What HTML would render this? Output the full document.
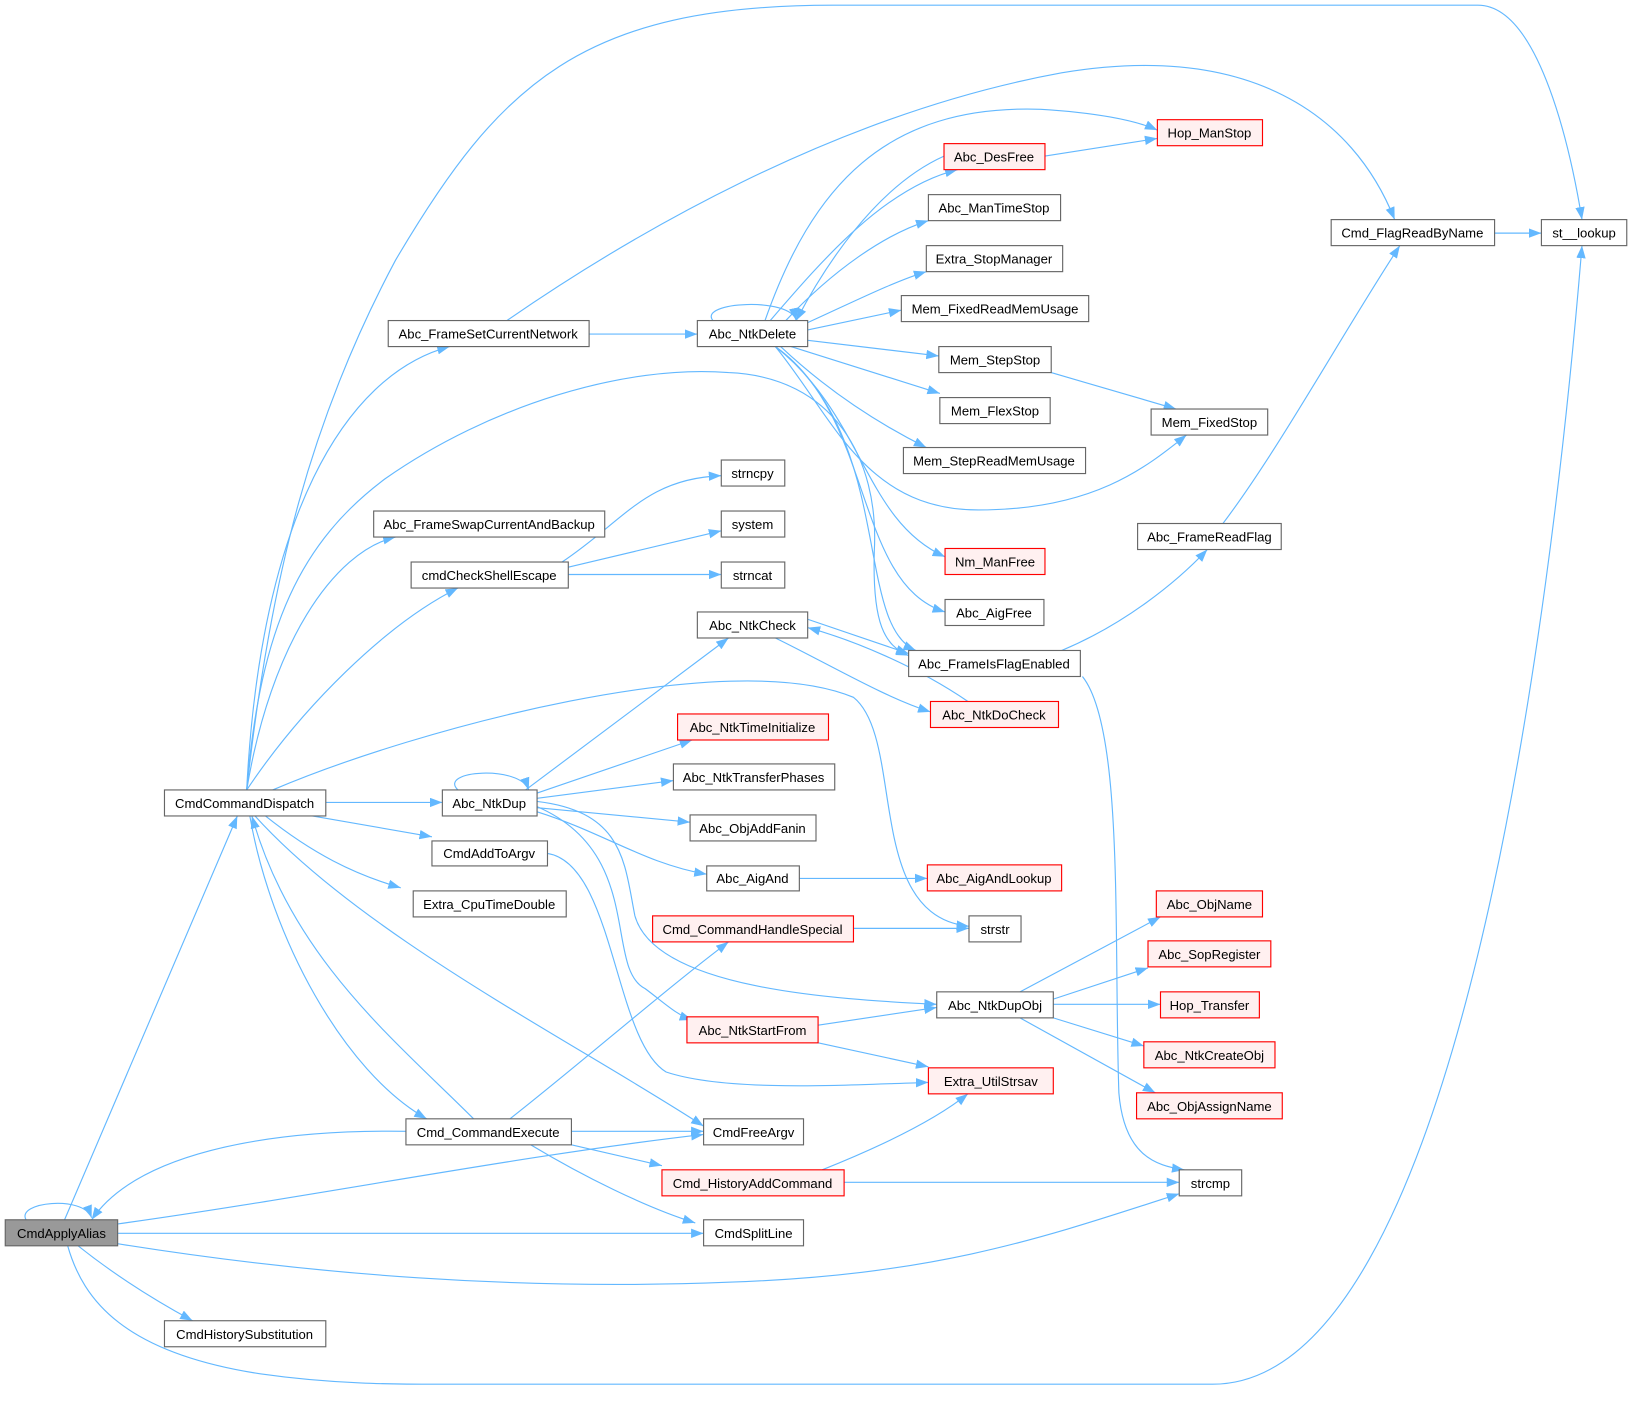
<!DOCTYPE html>
<html><head><meta charset="utf-8"><style>
html,body{margin:0;padding:0;background:#fff;}
svg{display:block;}
text{font-family:"Liberation Sans",Arial,sans-serif;font-size:12.6px;fill:#000;text-anchor:middle;dominant-baseline:central;}
.e{fill:none;stroke:#63b8ff;stroke-width:1.1;marker-end:url(#a);}
.n{fill:#fff;stroke:#666;stroke-width:1.1;}
.r{fill:#fff0f0;stroke:#ff0000;stroke-width:1.1;}
.g{fill:#999;stroke:#666;stroke-width:1.1;}
</style></head><body>
<svg width="1632" height="1404" viewBox="0 0 1568 1349" xmlns="http://www.w3.org/2000/svg">
<defs><marker id="a" markerUnits="userSpaceOnUse" markerWidth="13" markerHeight="10" refX="12" refY="4.5" orient="auto"><path d="M0,0 L12,4.5 L0,9 z" fill="#63b8ff"/></marker></defs>
<g>
<path class="e" d="M25,1172 C15,1155 80,1148 88,1170"/>
<path class="e" d="M62,1172 L228,784"/>
<path class="e" d="M113,1176 C300,1150 500,1110 676,1090"/>
<path class="e" d="M113,1185 L676,1185"/>
<path class="e" d="M113,1195 C300,1225 500,1240 700,1232 C900,1225 1000,1190 1133,1147"/>
<path class="e" d="M75,1197 C110,1225 150,1250 185,1269"/>
<path class="e" d="M65,1197 C80,1250 120,1300 250,1320 C320,1330 380,1330 420,1330 L1165,1330 C1400,1330 1490,600 1520,236"/>
<path class="e" d="M390,1087 C250,1085 130,1110 88,1172"/>
<path class="e" d="M237,759 C260,550 300,400 380,250 C480,80 560,5 800,5 L1420,5 C1480,5 1510,150 1520,211"/>
<path class="e" d="M237,759 C250,500 330,360 432,333"/>
<path class="e" d="M237,759 C250,600 290,520 370,460 C470,390 600,350 700,358 C800,362 845,440 840,530 C838,600 850,620 873,630"/>
<path class="e" d="M237,759 C260,620 320,530 380,516"/>
<path class="e" d="M237,759 C290,680 370,600 440,565"/>
<path class="e" d="M262,759 C400,700 700,620 820,670 C870,710 830,880 931,890"/>
<path class="e" d="M313,771 L425,771"/>
<path class="e" d="M300,784 L415,804"/>
<path class="e" d="M255,784 C300,820 340,840 385,853"/>
<path class="e" d="M245,784 C350,900 550,1000 676,1082"/>
<path class="e" d="M240,784 C260,900 330,1030 410,1075"/>
<path class="e" d="M455,1075 C380,1000 280,920 242,784"/>
<path class="e" d="M490,1075 C560,1020 640,950 700,905"/>
<path class="e" d="M549,1087 L676,1087"/>
<path class="e" d="M549,1100 L636,1120"/>
<path class="e" d="M510,1100 C560,1130 620,1160 668,1175"/>
<path class="e" d="M487,308 C600,230 800,110 1020,70 C1200,40 1300,110 1340,211"/>
<path class="e" d="M566,321 L670,321"/>
<path class="e" d="M685,308 C670,290 760,285 765,308"/>
<path class="e" d="M735,308 C780,180 850,100 1000,105 C1050,108 1090,115 1112,125"/>
<path class="e" d="M740,308 C790,250 850,180 920,163"/>
<path class="e" d="M755,308 C800,260 850,225 892,212"/>
<path class="e" d="M776,310 C820,290 860,270 890,261"/>
<path class="e" d="M776,317 L866,298"/>
<path class="e" d="M776,327 L902,342"/>
<path class="e" d="M760,333 L903,378"/>
<path class="e" d="M750,333 C800,380 850,410 890,430"/>
<path class="e" d="M745,333 C800,400 830,490 940,490 C1050,490 1100,450 1140,418"/>
<path class="e" d="M745,333 C830,400 830,500 908,535"/>
<path class="e" d="M745,333 C840,400 820,560 908,588"/>
<path class="e" d="M745,333 C860,420 820,600 880,625"/>
<path class="e" d="M907,150 C840,180 790,260 765,308"/>
<path class="e" d="M1004,150 L1112,133"/>
<path class="e" d="M1010,358 L1130,393"/>
<path class="e" d="M776,595 L873,628"/>
<path class="e" d="M745,613 C800,640 850,670 894,684"/>
<path class="e" d="M930,674 C880,640 820,615 776,603"/>
<path class="e" d="M1020,625 C1080,600 1130,560 1160,528"/>
<path class="e" d="M1040,650 C1080,700 1070,900 1075,1050 C1080,1110 1110,1120 1138,1124"/>
<path class="e" d="M1175,503 C1230,430 1290,320 1345,236"/>
<path class="e" d="M1436,224 L1481,224"/>
<path class="e" d="M540,540 C600,500 620,460 693,457"/>
<path class="e" d="M546,545 L693,510"/>
<path class="e" d="M546,552 L693,552"/>
<path class="e" d="M440,759 C420,740 500,735 508,759"/>
<path class="e" d="M505,759 L700,613"/>
<path class="e" d="M516,762 L665,711"/>
<path class="e" d="M516,767 L647,750"/>
<path class="e" d="M516,776 L663,790"/>
<path class="e" d="M516,780 C580,800 620,830 679,840"/>
<path class="e" d="M516,770 C600,780 600,830 610,880 C630,950 800,960 900,965"/>
<path class="e" d="M516,775 C620,820 580,930 620,950 C640,965 650,975 665,980"/>
<path class="e" d="M768,844 L891,844"/>
<path class="e" d="M820,892 L931,892"/>
<path class="e" d="M786,985 L900,968"/>
<path class="e" d="M786,1002 L892,1025"/>
<path class="e" d="M526,820 C590,830 590,1000 640,1030 C700,1050 820,1042 892,1040"/>
<path class="e" d="M790,1124 C850,1100 900,1075 930,1051"/>
<path class="e" d="M811,1136 L1133,1136"/>
<path class="e" d="M980,953 L1115,881"/>
<path class="e" d="M1012,960 L1103,930"/>
<path class="e" d="M1012,965 L1115,965"/>
<path class="e" d="M1012,978 L1099,1005"/>
<path class="e" d="M980,978 L1110,1050"/>
</g>
<g>
<rect class="g" x="5" y="1172" width="108" height="25"/><text x="59" y="1185">CmdApplyAlias</text>
<rect class="n" x="158" y="1269" width="155" height="25"/><text x="235" y="1282">CmdHistorySubstitution</text>
<rect class="n" x="158" y="759" width="155" height="25"/><text x="235" y="772">CmdCommandDispatch</text>
<rect class="n" x="373" y="308" width="193" height="25"/><text x="469" y="321">Abc_FrameSetCurrentNetwork</text>
<rect class="n" x="359" y="491" width="222" height="25"/><text x="470" y="504">Abc_FrameSwapCurrentAndBackup</text>
<rect class="n" x="395" y="540" width="151" height="25"/><text x="470" y="553">cmdCheckShellEscape</text>
<rect class="n" x="415" y="808" width="111" height="24"/><text x="470" y="820">CmdAddToArgv</text>
<rect class="n" x="397" y="856" width="147" height="25"/><text x="470" y="869">Extra_CpuTimeDouble</text>
<rect class="n" x="390" y="1075" width="159" height="25"/><text x="469" y="1088">Cmd_CommandExecute</text>
<rect class="n" x="425" y="759" width="91" height="25"/><text x="470" y="772">Abc_NtkDup</text>
<rect class="n" x="670" y="308" width="106" height="25"/><text x="723" y="321">Abc_NtkDelete</text>
<rect class="n" x="670" y="588" width="106" height="25"/><text x="723" y="601">Abc_NtkCheck</text>
<rect class="n" x="693" y="442" width="61" height="25"/><text x="723" y="455">strncpy</text>
<rect class="n" x="693" y="491" width="61" height="25"/><text x="723" y="504">system</text>
<rect class="n" x="693" y="540" width="61" height="25"/><text x="723" y="553">strncat</text>
<rect class="r" x="651" y="686" width="145" height="25"/><text x="723" y="699">Abc_NtkTimeInitialize</text>
<rect class="n" x="647" y="734" width="155" height="25"/><text x="724" y="747">Abc_NtkTransferPhases</text>
<rect class="n" x="663" y="783" width="121" height="25"/><text x="723" y="796">Abc_ObjAddFanin</text>
<rect class="n" x="679" y="832" width="89" height="24"/><text x="723" y="844">Abc_AigAnd</text>
<rect class="r" x="627" y="880" width="193" height="25"/><text x="723" y="893">Cmd_CommandHandleSpecial</text>
<rect class="r" x="660" y="977" width="126" height="25"/><text x="723" y="990">Abc_NtkStartFrom</text>
<rect class="n" x="676" y="1075" width="96" height="25"/><text x="724" y="1088">CmdFreeArgv</text>
<rect class="r" x="636" y="1124" width="175" height="25"/><text x="723" y="1137">Cmd_HistoryAddCommand</text>
<rect class="n" x="676" y="1172" width="96" height="25"/><text x="724" y="1185">CmdSplitLine</text>
<rect class="r" x="1112" y="115" width="101" height="25"/><text x="1162" y="128">Hop_ManStop</text>
<rect class="r" x="907" y="138" width="97" height="25"/><text x="955" y="151">Abc_DesFree</text>
<rect class="n" x="892" y="187" width="127" height="25"/><text x="955" y="200">Abc_ManTimeStop</text>
<rect class="n" x="890" y="236" width="131" height="25"/><text x="955" y="249">Extra_StopManager</text>
<rect class="n" x="866" y="284" width="180" height="25"/><text x="956" y="297">Mem_FixedReadMemUsage</text>
<rect class="n" x="902" y="333" width="108" height="25"/><text x="956" y="346">Mem_StepStop</text>
<rect class="n" x="903" y="382" width="106" height="25"/><text x="956" y="395">Mem_FlexStop</text>
<rect class="n" x="868" y="430" width="175" height="25"/><text x="955" y="443">Mem_StepReadMemUsage</text>
<rect class="n" x="1106" y="393" width="112" height="25"/><text x="1162" y="406">Mem_FixedStop</text>
<rect class="r" x="908" y="527" width="96" height="25"/><text x="956" y="540">Nm_ManFree</text>
<rect class="n" x="908" y="576" width="95" height="25"/><text x="955" y="589">Abc_AigFree</text>
<rect class="n" x="873" y="625" width="165" height="25"/><text x="955" y="638">Abc_FrameIsFlagEnabled</text>
<rect class="r" x="894" y="674" width="123" height="25"/><text x="955" y="687">Abc_NtkDoCheck</text>
<rect class="r" x="891" y="831" width="129" height="25"/><text x="955" y="844">Abc_AigAndLookup</text>
<rect class="n" x="931" y="880" width="50" height="25"/><text x="956" y="893">strstr</text>
<rect class="n" x="900" y="953" width="112" height="25"/><text x="956" y="966">Abc_NtkDupObj</text>
<rect class="r" x="892" y="1026" width="120" height="25"/><text x="952" y="1039">Extra_UtilStrsav</text>
<rect class="n" x="1093" y="503" width="138" height="25"/><text x="1162" y="516">Abc_FrameReadFlag</text>
<rect class="n" x="1279" y="211" width="157" height="25"/><text x="1357" y="224">Cmd_FlagReadByName</text>
<rect class="n" x="1481" y="211" width="82" height="25"/><text x="1522" y="224">st__lookup</text>
<rect class="r" x="1111" y="856" width="102" height="25"/><text x="1162" y="869">Abc_ObjName</text>
<rect class="r" x="1103" y="904" width="118" height="25"/><text x="1162" y="917">Abc_SopRegister</text>
<rect class="r" x="1115" y="953" width="95" height="25"/><text x="1162" y="966">Hop_Transfer</text>
<rect class="r" x="1099" y="1001" width="126" height="25"/><text x="1162" y="1014">Abc_NtkCreateObj</text>
<rect class="r" x="1092" y="1050" width="140" height="25"/><text x="1162" y="1063">Abc_ObjAssignName</text>
<rect class="n" x="1133" y="1124" width="60" height="25"/><text x="1163" y="1137">strcmp</text>
</g>
</svg>
</body></html>
